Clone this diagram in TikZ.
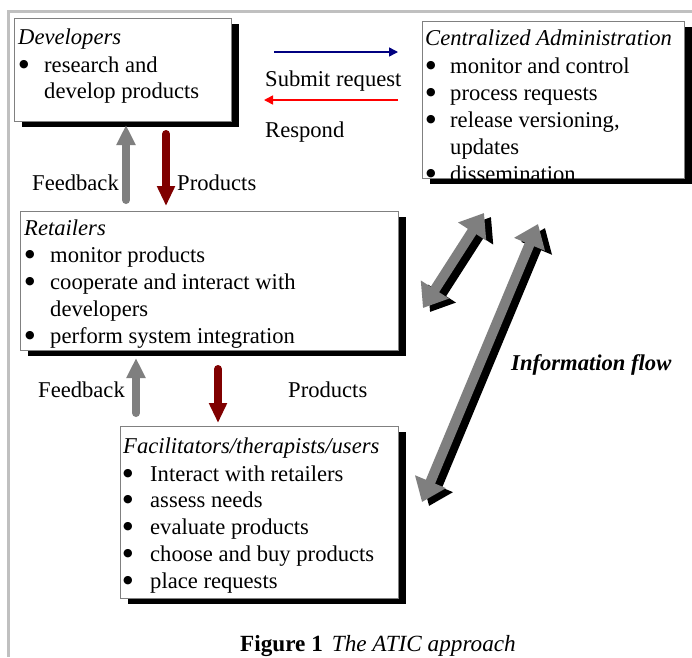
\documentclass[tikz,border=0pt]{standalone}
\usepackage{fontspec}
\setmainfont{Liberation Serif}
\newfontfamily\dejavu{DejaVu Sans}
\usetikzlibrary{arrows.meta,shadows}
\definecolor{navyc}{HTML}{000080}
\definecolor{maroonc}{HTML}{800000}
\definecolor{framec}{HTML}{C0C0C0}
\definecolor{boxgray}{HTML}{808080}
\definecolor{arrgray}{HTML}{7F7F7F}
\newcommand{\bigbul}{\raisebox{4.5pt}{\dejavu\fontsize{11}{11}\selectfont ●}}
\begin{document}
\begin{tikzpicture}[x=1pt,y=-1pt,
  box/.style={draw=boxgray,line width=1.3pt,fill=white,anchor=north west,inner sep=0pt,
     drop shadow={shadow xshift=7pt,shadow yshift=-5pt,opacity=1,fill=black}},
  txt/.style={anchor=base west,inner sep=0pt,font=\fontsize{22.6}{26}\selectfont},
  thinarrow/.style={line width=1.5pt,-{Triangle[length=9pt,width=9pt]}},
  fbarrow/.style={draw=arrgray,line width=8pt,line cap=round,-{Triangle[length=20pt,width=18pt]}},
  prarrow/.style={draw=maroonc,line width=8pt,line cap=round,-{Triangle[length=20pt,width=17pt]}},
  infoarrow/.style={line width=10pt,{Triangle[length=22pt,width=32pt]}-{Triangle[length=22pt,width=32pt]}}
]
\useasboundingbox (0,0) rectangle (692,657);
\fill[white] (0,0) rectangle (692,657);
% frame
\draw[framec,line width=3pt] (8,11.5) -- (692,11.5);
\draw[framec,line width=3pt] (8,10) -- (8,657);

% boxes
\node[box,minimum width=217pt,minimum height=103pt] (dev) at (14,18) {};
\node[box,minimum width=262pt,minimum height=157pt] (admin) at (422,21) {};
\node[box,minimum width=378pt,minimum height=139pt] (ret) at (20,211) {};
\node[box,minimum width=278pt,minimum height=172pt] (fac) at (120,426) {};

% Developers text
\node[txt] (devh) at (18,44) {\itshape Developers};
\node[txt] (devb1) at (19,72) {\bigbul};
\node[txt] (devt1) at (44,72) {research and};
\node[txt] (devt2) at (44,98) {develop products};

% Admin text (clipped by box)
\begin{scope}
\clip (422,21) rectangle (684,178);
\node[txt] (admh) at (425,45) {\itshape Centralized Administration};
\node[txt] (admb1) at (426,73) {\bigbul};
\node[txt] (admt1) at (450,73) {monitor and control};
\node[txt] (admb2) at (426,100) {\bigbul};
\node[txt] (admt2) at (450,100) {process requests};
\node[txt] (admb3) at (426,127) {\bigbul};
\node[txt] (admt3) at (450,127) {release versioning,};
\node[txt] (admt4) at (450,154) {updates};
\node[txt] (admb5) at (426,181) {\bigbul};
\node[txt] (admt5) at (450,181) {dissemination};
\end{scope}

% Retailers text
\node[txt] (reth) at (24,235) {\itshape Retailers};
\node[txt] (retb1) at (25,262) {\bigbul};
\node[txt] (rett1) at (50,262) {monitor products};
\node[txt] (retb2) at (25,289) {\bigbul};
\node[txt] (rett2) at (50,289) {cooperate and interact with};
\node[txt] (rett3) at (50,316) {developers};
\node[txt] (retb4) at (25,343) {\bigbul};
\node[txt] (rett4) at (50,343) {perform system integration};

% Facilitators text
\node[txt] (fach) at (123,453) {\itshape Facilitators/therapists/users};
\node[txt] (facb1) at (123,481) {\bigbul};
\node[txt] (fact1) at (150,481) {Interact with retailers};
\node[txt] (facb2) at (123,507) {\bigbul};
\node[txt] (fact2) at (150,507) {assess needs};
\node[txt] (facb3) at (123,534) {\bigbul};
\node[txt] (fact3) at (150,534) {evaluate products};
\node[txt] (facb4) at (123,561) {\bigbul};
\node[txt] (fact4) at (150,561) {choose and buy products};
\node[txt] (facb5) at (123,588) {\bigbul};
\node[txt] (fact5) at (150,588) {place requests};

% request / respond arrows
\coordinate (subS) at (274,52);
\coordinate (subE) at (398,52);
\coordinate (resS) at (398,100);
\coordinate (resE) at (264,100);
\draw[thinarrow,navyc] (subS) -- (subE);
\draw[thinarrow,red] (resS) -- (resE);
\node[txt] (sublbl) at (265,86) {Submit request};
\node[txt] (reslbl) at (265,137) {Respond};

% Developers <-> Retailers
\coordinate (fb1S) at (126,200);
\coordinate (fb1E) at (126,125);
\coordinate (pr1S) at (166,134);
\coordinate (pr1E) at (166,206);
\draw[fbarrow] (fb1S) -- (fb1E);
\draw[prarrow] (pr1S) -- (pr1E);
\node[txt] (fb1lbl) at (32,190) {Feedback};
\node[txt] (pr1lbl) at (177,190) {Products};

% Retailers <-> Facilitators
\coordinate (fb2S) at (136,413);
\coordinate (fb2E) at (136,358);
\coordinate (pr2S) at (218,369);
\coordinate (pr2E) at (218,423);
\draw[fbarrow] (fb2S) -- (fb2E);
\draw[prarrow] (pr2S) -- (pr2E);
\node[txt] (fb2lbl) at (38,397) {Feedback};
\node[txt] (pr2lbl) at (288,397) {Products};

% Information flow arrows (black shadow, then gray)
\coordinate (i1a) at (423,308);
\coordinate (i1b) at (484,213);
\coordinate (i2a) at (422,502);
\coordinate (i2b) at (538,224);
\draw[infoarrow,black] ([shift={(7,4)}]i1a) -- ([shift={(7,4)}]i1b);
\draw[infoarrow,black] ([shift={(7,4)}]i2a) -- ([shift={(7,4)}]i2b);
\draw[infoarrow,arrgray] (i1a) -- (i1b);
\draw[infoarrow,arrgray] (i2a) -- (i2b);
\node[txt] (infolbl) at (511,370) {\bfseries\itshape Information flow};

% caption
\node[anchor=base,inner sep=0pt,font=\fontsize{23.2}{26}\selectfont] (cap) at (378,651)
  {\textbf{Figure 1}\hspace{9pt}\textit{The ATIC approach}};
\end{tikzpicture}
\end{document}
